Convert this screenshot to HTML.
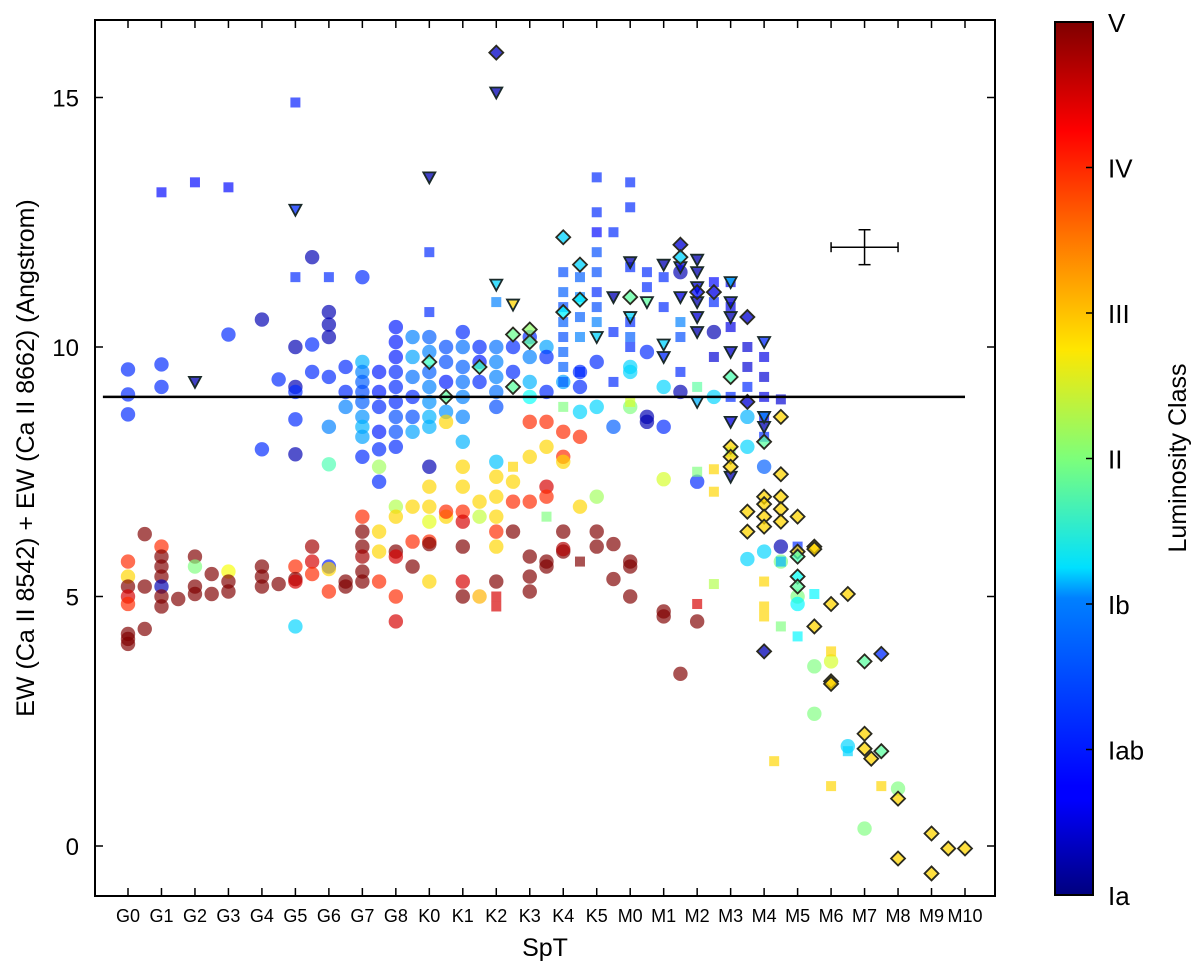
<!DOCTYPE html>
<html><head><meta charset="utf-8">
<style>
body{margin:0;background:#fff;}
svg{display:block;font-family:"Liberation Sans","DejaVu Sans",sans-serif;}
</style></head>
<body>
<svg id="chart" width="1200" height="971" viewBox="0 0 1200 971" xmlns="http://www.w3.org/2000/svg">
<defs>
<linearGradient id="jet" x1="0" y1="1" x2="0" y2="0">
<stop offset="0" stop-color="#00007f"/><stop offset="0.11" stop-color="#0000ff"/>
<stop offset="0.125" stop-color="#0000ff"/><stop offset="0.34" stop-color="#0080ff"/>
<stop offset="0.375" stop-color="#00e0ff"/><stop offset="0.5" stop-color="#7dff7a"/>
<stop offset="0.625" stop-color="#ffe600"/><stop offset="0.75" stop-color="#ff7800"/>
<stop offset="0.875" stop-color="#ff0000"/><stop offset="1" stop-color="#7f0000"/>
</linearGradient>
<clipPath id="plotclip"><rect x="95" y="20" width="900" height="876"/></clipPath>
</defs>
<g id="marks" clip-path="url(#plotclip)"></g>
<g id="axes"></g>
</svg>
<script>
const xCategories = ["G0","G1","G2","G3","G4","G5","G6","G7","G8","K0","K1","K2","K3","K4","K5","M0","M1","M2","M3","M4","M5","M6","M7","M8","M9","M10"];
const yTicks = [0,5,10,15];
const cbLabels = ["Ia","Iab","Ib","II","III","IV","V"];
// [spt index, EW, luminosity (0=Ia .. 6=V)]
const circles = [
[0,9.55,1],[0,9.05,1],[0,8.65,1],[0,5.7,5],[0,5.4,4],[0,5.2,6],[0,5.0,5.5],[0,4.85,5],[0,4.25,6],[0,4.15,6],[0,4.05,6],
[0.5,6.25,6],[0.5,5.2,6],[0.5,4.35,6],
[1,9.65,1],[1,9.2,1],[1,6.0,5],[1,5.8,6],[1,5.6,6],[1,5.4,6],[1,5.2,0.3],[1,5.0,6],[1,4.8,6],[1.5,4.95,6],
[2,5.8,6],[2,5.6,3],[2,5.2,6],[2,5.05,6],[2.5,5.45,6],[2.5,5.05,6],
[3,10.25,1],[3,5.5,3.7],[3,5.3,6],[3,5.1,6],
[4,10.55,0.3],[4,7.95,1],[4,5.6,6],[4,5.4,6],[4,5.2,6],[4.5,9.35,1],[4.5,5.25,6],
[5,10.0,0.3],[5,9.2,0.3],[5,9.1,1],[5,8.55,1],[5,7.85,0.3],[5,5.6,5],[5,5.35,6],[5,5.3,5.5],[5,4.4,2],
[5.5,11.8,0.3],[5.5,10.05,1],[5.5,9.5,1],[5.5,6.0,5.8],[5.5,5.7,5.5],[5.5,5.45,5],
[6,10.7,0.3],[6,10.45,0.3],[6,10.2,0.3],[6,9.4,1],[6,8.4,1.5],[6,7.65,2.7],[6,5.6,0.9],[6,5.55,4],[6,5.1,5],
[6.5,9.6,1],[6.5,9.1,1],[6.5,8.8,1.5],[6.5,5.3,6],[6.5,5.2,6],
[7,11.4,1],[7,9.7,1.8],[7,9.5,1.5],[7,9.3,1.3],[7,9.1,1.2],[7,8.9,1.3],[7,8.6,1.6],[7,8.4,1.8],[7,8.2,1.7],[7,7.8,1],[7,6.6,5],[7,6.3,6],[7,6.0,6],[7,5.8,5.8],[7,5.5,6],[7,5.3,6],
[7.5,9.5,0.9],[7.5,9.1,0.9],[7.5,8.8,1],[7.5,8.3,0.9],[7.5,7.95,1],[7.5,7.3,1],[7.5,7.6,3.2],[7.5,6.3,4],[7.5,5.9,4],[7.5,5.3,5],
[8,10.4,0.9],[8,10.1,0.9],[8,9.8,0.9],[8,9.5,1],[8,9.2,1],[8,8.9,1],[8,8.6,1.2],[8,8.3,1.2],[8,8.0,1],[8,6.8,3.3],[8,6.6,4],[8,5.9,6],[8,5.8,5.5],[8,5.0,5],[8,4.5,5.5],
[8.5,10.2,1.5],[8.5,9.8,1.7],[8.5,9.4,1.4],[8.5,9.0,1],[8.5,8.6,1.2],[8.5,8.3,1.7],[8.5,6.8,4],[8.5,6.1,5],[8.5,5.6,6],
[9,10.2,1.3],[9,9.9,1.5],[9,9.5,1.3],[9,9.2,1.5],[9,8.9,1.6],[9,8.6,1.8],[9,8.4,1.8],[9,7.6,0.3],[9,7.2,4],[9,6.8,4],[9,6.5,3.6],[9,6.1,5],[9,6.05,6],[9,5.3,4],
[9.5,10.0,1.2],[9.5,9.7,1.2],[9.5,9.3,0.9],[9.5,8.7,1.6],[9.5,8.5,4],[9.5,6.6,4],[9.5,6.7,5],
[10,10.3,1],[10,10.0,1.4],[10,9.6,1.3],[10,9.3,1.4],[10,9.0,1.5],[10,8.6,1.5],[10,8.1,1.8],[10,7.6,4],[10,7.2,4],[10,6.7,5],[10,6.5,5.5],[10,6.0,6],[10,5.3,5.5],[10,5.0,6],
[10.5,10.0,1],[10.5,9.7,0.9],[10.5,9.3,1],[10.5,6.9,4],[10.5,6.6,3.4],[10.5,5.0,4.2],
[11,10.0,1.4],[11,9.7,1.5],[11,9.4,1.5],[11,9.1,1.4],[11,8.8,1.2],[11,7.7,1.9],[11,7.4,4],[11,7.0,4],[11,6.6,4],[11,6.3,5],[11,6.0,4],[11,5.3,6],
[11.5,10.0,1],[11.5,9.5,1],[11.5,7.3,4],[11.5,6.9,5],[11.5,6.3,6],
[12,10.2,1],[12,9.8,1.5],[12,9.3,1.8],[12,9.0,2.3],[12,8.5,5],[12,7.8,4],[12,6.9,5],[12,5.8,6],[12,5.4,6],[12,5.1,6],
[12.5,10.0,1.7],[12.5,9.8,1],[12.5,9.1,1],[12.5,8.5,5],[12.5,8.0,4],[12.5,7.2,5.5],[12.5,7.0,5],[12.5,5.7,6],[12.5,5.6,6],
[13,9.3,1.7],[13,8.3,5],[13,7.8,5],[13,7.7,4],[13,6.3,6],[13,5.9,6],[13,5.95,5.7],
[13.5,9.5,1],[13.5,9.2,1],[13.5,8.7,2],[13.5,8.2,5],[13.5,6.8,4],
[14,9.7,1],[14,8.8,2],[14,7.0,3.2],[14,6.3,6],[14,6.0,6],
[14.5,8.4,1.3],[14.5,6.05,6],[14.5,5.35,6],
[15,9.6,2],[15,9.5,2],[15,8.8,3],[15,5.7,6],[15,5.6,6],[15,5.0,6],
[15.5,9.9,1],[15.5,8.6,0.3],[15.5,8.5,0.3],
[16,9.2,2],[16,8.4,1],[16,7.35,3.5],[16,4.7,6],[16,4.6,6],
[16.5,11.5,0.3],[16.5,9.1,0.3],[16.5,3.45,6],
[17,7.3,1],[17,4.5,6],
[17.5,10.3,0.3],[17.5,9.0,2],
[18.5,8.6,1.8],[18.5,8.0,2],[18.5,5.75,2],
[19,7.6,1.3],[19,5.9,2],
[19.5,6.0,0.3],[19.5,5.7,3],
[20,5.0,3],[20,4.85,2.2],
[20.5,3.6,3],[20.5,2.65,3],
[21,3.7,3.5],[21.5,2.0,2],
[22,0.35,3],[23,1.15,3]
];
const squares = [
[1,13.1,0.8],[2,13.3,0.8],[3,13.2,0.8],[5,14.9,0.9],[5,11.4,1],[6,11.4,1],
[9,11.9,1],[9,10.7,1],[11,10.9,1.5],[11,5.0,5.5],[11,4.8,5.5],[11.5,7.6,4],[12.5,6.6,3],
[13,11.5,1.2],[13,11.1,1.3],[13,10.8,1.2],[13,10.5,1.3],[13,10.2,1.2],[13,9.9,1.3],[13,9.6,1.3],[13,9.3,1.3],[13,8.8,3],
[13.5,11.4,1.3],[13.5,11.0,1.5],[13.5,10.6,1.3],[13.5,10.2,1.5],[13.5,9.5,1],[13.5,5.7,6],
[14,13.4,1],[14,12.7,1],[14,12.3,0.8],[14,11.9,1.2],[14,11.5,1.2],[14,11.1,1],[14,10.8,1.2],[14,10.5,1.5],
[14.5,12.3,1],[14.5,10.3,1],[14.5,9.3,1],
[15,13.3,1],[15,12.8,1],[15,11.6,1],[15,10.5,1],[15,10.2,1.3],[15,10.0,1],[15,8.9,3.5],
[15.5,11.5,1],[15.5,11.2,1],
[16,11.4,1],[16,10.8,1],
[16.5,10.5,1.5],[16.5,10.2,1.2],[16.5,9.5,1],
[17,9.2,2.8],[17,7.5,3],[17,4.85,5.5],
[17.5,11.3,0.8],[17.5,10.9,1],[17.5,9.8,0.5],[17.5,7.55,4],[17.5,7.1,4],[17.5,5.25,3.3],
[18,11.3,0.6],[18,10.8,0.6],[18,10.4,0.6],[18,9.0,1],[18,7.9,3],
[18.5,10.0,0.5],[18.5,9.6,0.5],[18.5,9.2,1],
[19,9.8,0.6],[19,9.4,0.5],[19,9.0,0.6],[19,8.6,0.8],[19,8.2,1],[19,5.3,4],[19,4.8,4],[19,4.6,4],
[19.5,8.95,0.5],[19.5,4.4,3],[19.5,5.7,1.8],
[20,6.0,1],[20,4.2,2.2],[20.5,5.05,2.2],[21,3.9,4],[21,1.2,4],[19.3,1.7,4],[21.5,1.9,2],[22.5,1.2,4]
];
const diamonds = [
[11,15.9,0.4],[9,9.7,2.6],[9.5,9.0,2.8],[10.5,9.6,2.6],[11.5,10.25,2.9],[11.5,9.2,2.8],[12,10.35,3.1],[12,10.1,2.8],
[13,12.2,2],[13,10.7,2.2],[13.5,11.65,2],[13.5,10.95,2.2],[15,11.0,2.8],
[16.5,12.05,0.5],[16.5,11.8,2],[17,11.1,0.8],[17.5,11.1,0.6],[18,9.4,2.7],[18,8.0,4],[18,7.8,4],[18,7.6,4],
[18.5,10.6,0.5],[18.5,8.9,0.5],[18.5,6.7,4],[18.5,6.3,4],
[19,8.1,2.8],[19,7.0,4],[19,6.85,4],[19,6.6,4],[19,6.4,4],[19,3.9,0.3],
[19.5,8.6,4],[19.5,7.45,4],[19.5,7.0,4],[19.5,6.75,4],[19.5,6.5,4],
[20,6.6,4],[20,5.9,4],[20,5.8,2.7],[20,5.4,2.3],[20,5.2,2.8],
[20.5,6.0,4],[20.5,5.95,4],[20.5,4.4,4],[21,4.85,4],[21,3.3,4],[21.5,5.05,4],[21,3.25,4],
[22,3.7,2.8],[22.5,3.85,1],[22,2.25,4],[22,1.95,4],[22.5,1.9,2.8],[22.2,1.75,4],
[23,0.95,4],[23,-0.25,4],[24,0.25,4],[24,-0.55,4],[24.5,-0.05,4],[25,-0.05,4]
];
const triangles = [
[2,9.3,0.3],[5,12.75,1],[9,13.4,0.3],[11,15.1,0.3],[11,11.25,2],[11.5,10.85,4],
[14,10.2,2],[14.5,11.0,0.3],[15,11.7,0.3],[15,10.6,2],[15.5,10.9,2.8],
[16,11.65,0.3],[16,10.05,2],[16,9.8,1],[16.5,11.6,0.5],[16.5,11.0,0.6],
[17,11.75,0.3],[17,11.5,0.3],[17,11.2,0.5],[17,10.9,0.3],[17,10.6,0.5],[17,10.3,0.3],[17,8.9,1.8],
[18,11.3,1.8],[18,10.9,0.5],[18,10.6,0.3],[18,9.9,0.5],[18,8.5,0.6],[18,7.4,0.3],
[19,10.1,1],[19,8.4,0.3],[19,8.6,1.5]
];
const errX = 22, errY = 12, errDx = 1, errDy = 0.35;
const hLine = {from:-0.75, to:25, y:9};

const L=95,R=995,T=20,B=896;
const xS = v => 128 + v*33.48;
const yS = v => 846 - v*49.9;
const NS="http://www.w3.org/2000/svg";
function jet(t){
  t=Math.max(0,Math.min(1,t));
  const f=x=>Math.max(0,Math.min(1,x));
  const r=f(1.5-Math.abs(4*t-3)), g=f(1.5-Math.abs(4*t-2)), b=f(1.5-Math.abs(4*t-1));
  return `rgb(${Math.round(r*255)},${Math.round(g*255)},${Math.round(b*255)})`;
}
const lumColor = l => jet(l/6);
function mk(tag, attrs, parent){
  const e=document.createElementNS(NS,tag);
  for(const k in attrs) e.setAttribute(k,attrs[k]);
  parent.appendChild(e); return e;
}
const marks=document.getElementById('marks');
const axes=document.getElementById('axes');

circles.forEach(d=>{
  const e=mk('circle',{cx:xS(d[0]),cy:yS(d[1]),r:7.2,fill:lumColor(d[2]),'fill-opacity':0.68},marks);
  
  
});
squares.forEach(d=>{
  const e=mk('rect',{x:xS(d[0])-5,y:yS(d[1])-5,width:10,height:10,fill:lumColor(d[2]),'fill-opacity':0.68},marks);
  
  
});
triangles.forEach(d=>{
  const x=xS(d[0]),y=yS(d[1]);
  const e=mk('polygon',{points:`${x-6},${y-5} ${x+6},${y-5} ${x},${y+6}`,fill:lumColor(d[2]),'fill-opacity':0.75,stroke:'#1a2a2a','stroke-width':1.8},marks);
  
  
});
diamonds.forEach(d=>{
  const x=xS(d[0]),y=yS(d[1]);
  const e=mk('polygon',{points:`${x},${y-7} ${x+7},${y} ${x},${y+7} ${x-7},${y}`,fill:lumColor(d[2]),'fill-opacity':0.75,stroke:'#2a2a20','stroke-width':1.8},marks);
  
  
});
const hl=mk('line',{x1:xS(hLine.from),x2:xS(hLine.to),y1:yS(hLine.y),y2:yS(hLine.y),stroke:'#000','stroke-width':2.5},marks);



const eb=mk('g',{stroke:'#000','stroke-width':1.5},axes);


mk('line',{x1:xS(errX-errDx),x2:xS(errX+errDx),y1:yS(errY),y2:yS(errY)},eb);
mk('line',{x1:xS(errX),x2:xS(errX),y1:yS(errY+errDy),y2:yS(errY-errDy)},eb);
mk('line',{x1:xS(errX-errDx),x2:xS(errX-errDx),y1:yS(errY)-5,y2:yS(errY)+5},eb);
mk('line',{x1:xS(errX+errDx),x2:xS(errX+errDx),y1:yS(errY)-5,y2:yS(errY)+5},eb);
mk('line',{x1:xS(errX)-6,x2:xS(errX)+6,y1:yS(errY+errDy),y2:yS(errY+errDy)},eb);
mk('line',{x1:xS(errX)-6,x2:xS(errX)+6,y1:yS(errY-errDy),y2:yS(errY-errDy)},eb);

const fr=mk('rect',{x:L,y:T,width:R-L,height:B-T,fill:'none',stroke:'#000','stroke-width':2},axes);



xCategories.forEach((c,i)=>{
  const x=xS(i);
  mk('line',{x1:x,x2:x,y1:B,y2:B-8,stroke:'#000','stroke-width':1.5},axes);
  mk('line',{x1:x,x2:x,y1:T,y2:T+8,stroke:'#000','stroke-width':1.5},axes);
  const t=mk('text',{x:x,y:922,'text-anchor':'middle','font-size':18},axes);
  t.textContent=c;
  
  
});
yTicks.forEach(v=>{
  const y=yS(v);
  mk('line',{x1:L,x2:L+8,y1:y,y2:y,stroke:'#000','stroke-width':1.5},axes);
  mk('line',{x1:R,x2:R-8,y1:y,y2:y,stroke:'#000','stroke-width':1.5},axes);
  const t=mk('text',{x:L-16,y:y+9,'text-anchor':'end','font-size':24},axes);
  t.textContent=v;
  
  
});
const xt=mk('text',{x:545,y:956,'text-anchor':'middle','font-size':25},axes);
xt.textContent='SpT';


const yt=mk('text',{x:0,y:0,'text-anchor':'middle','font-size':25,transform:'translate(34,458) rotate(-90)'},axes);
yt.textContent='EW (Ca II 8542) + EW (Ca II 8662) (Angstrom)';



const cbT=22,cbB=895,cbL=1055,cbW=38;
const cb=mk('rect',{x:cbL,y:cbT,width:cbW,height:cbB-cbT,fill:'url(#jet)',stroke:'#000','stroke-width':2},axes);


cbLabels.forEach((s,i)=>{
  const y=cbB-(cbB-cbT)*i/6;
  mk('line',{x1:cbL+cbW-7,x2:cbL+cbW,y1:y,y2:y,stroke:'#000','stroke-width':1.5},axes);
  const t=mk('text',{x:1108,y:y+10,'font-size':26},axes);
  t.textContent=s;
  
  
});
const ct=mk('text',{x:0,y:0,'text-anchor':'middle','font-size':25,transform:'translate(1186,458) rotate(-90)'},axes);
ct.textContent='Luminosity Class';


</script>
</body></html>
